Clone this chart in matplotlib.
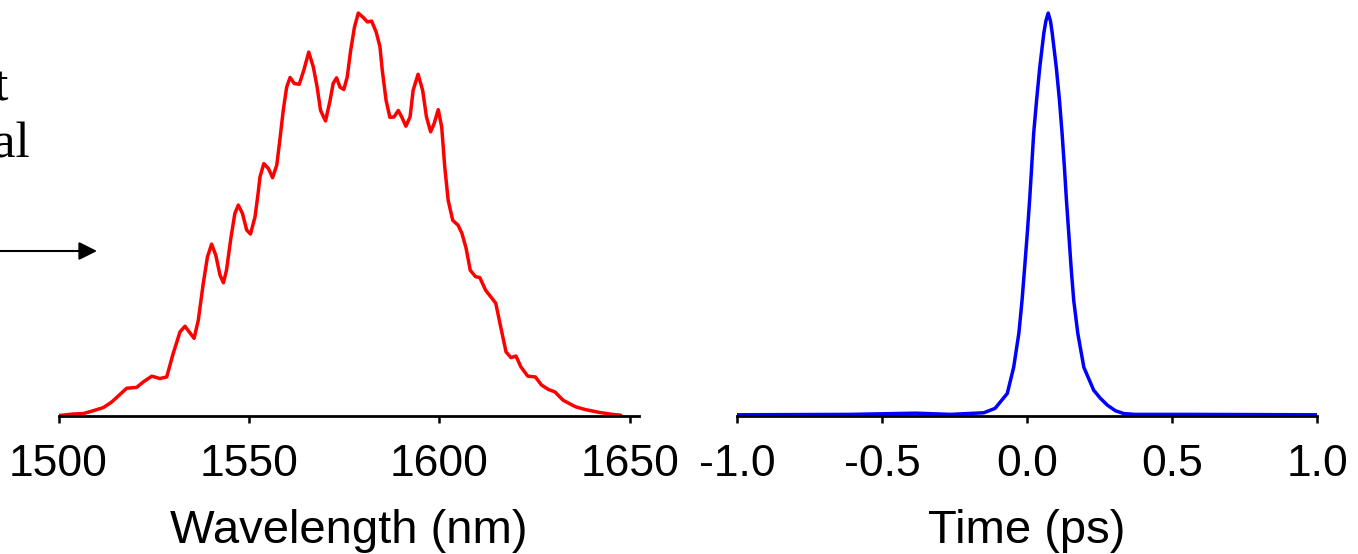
import matplotlib
matplotlib.use("Agg")
import matplotlib.pyplot as plt

plt.rcParams['font.family'] = ['Liberation Sans', 'DejaVu Sans']

# ---- Spectrum (left panel) ----
wavelength_nm = [1500.0, 1503.9, 1506.5, 1509.1, 1511.8, 1514.0, 1517.9, 1520.5, 1522.3, 1524.5,
                 1526.6, 1528.4, 1530.1, 1531.9, 1533.2, 1534.3, 1535.6, 1536.7, 1538.0, 1539.1,
                 1540.2, 1541.3, 1542.4, 1543.3, 1544.1, 1545.3, 1546.3, 1547.2, 1548.3, 1549.4,
                 1550.4, 1551.6, 1552.4, 1552.9, 1553.9, 1555.1, 1556.2, 1557.3, 1558.1, 1559.0,
                 1559.9, 1560.8, 1561.9, 1563.2, 1564.4, 1565.7, 1566.9, 1567.9, 1568.8, 1570.1,
                 1571.3, 1572.1, 1573.0, 1573.9, 1574.9, 1575.8, 1576.7, 1577.7, 1578.7, 1580.0,
                 1581.1, 1582.2, 1583.4, 1584.4, 1585.0, 1586.0, 1587.0, 1588.1, 1589.2, 1590.1,
                 1591.2, 1592.3, 1593.1, 1594.4, 1595.6, 1596.6, 1597.7, 1598.6, 1599.7, 1600.6,
                 1601.4, 1602.3, 1603.5, 1604.9, 1605.9, 1607.0, 1608.1, 1609.5, 1610.6, 1612.1,
                 1613.5, 1614.8, 1616.1, 1617.5, 1618.8, 1620.1, 1621.4, 1623.2, 1625.2, 1626.8,
                 1628.6, 1630.3, 1632.5, 1635.7, 1638.3, 1641.9, 1645.4, 1647.6]
spectrum = [0.000, 0.004, 0.005, 0.012, 0.020, 0.034, 0.068, 0.070, 0.084, 0.098,
            0.092, 0.096, 0.154, 0.208, 0.222, 0.208, 0.192, 0.237, 0.328, 0.394,
            0.426, 0.398, 0.349, 0.330, 0.361, 0.444, 0.502, 0.523, 0.502, 0.461,
            0.451, 0.494, 0.552, 0.593, 0.626, 0.614, 0.591, 0.622, 0.684, 0.758,
            0.816, 0.840, 0.825, 0.823, 0.858, 0.903, 0.866, 0.816, 0.758, 0.732,
            0.783, 0.825, 0.839, 0.816, 0.810, 0.841, 0.907, 0.965, 1.000, 0.989,
            0.978, 0.980, 0.953, 0.916, 0.858, 0.783, 0.741, 0.742, 0.758, 0.742,
            0.719, 0.742, 0.808, 0.848, 0.808, 0.742, 0.705, 0.725, 0.760, 0.717,
            0.618, 0.535, 0.485, 0.473, 0.453, 0.416, 0.361, 0.345, 0.343, 0.312,
            0.295, 0.279, 0.220, 0.158, 0.144, 0.148, 0.121, 0.098, 0.096, 0.076,
            0.065, 0.059, 0.038, 0.022, 0.015, 0.008, 0.003, 0.001]
wl_ticks = [1500, 1550, 1600, 1650]
wl_ticklabels = ["1500", "1550", "1600", "1650"]

# ---- Pulse (right panel) ----
time_ps = [-1.0, -0.61, -0.384, -0.264, -0.149, -0.11, -0.068, -0.046, -0.028, -0.017,
           -0.008, 0.001, 0.009, 0.016, 0.023, 0.033, 0.044, 0.058, 0.065, 0.073,
           0.081, 0.087, 0.101, 0.112, 0.121, 0.129, 0.136, 0.144, 0.152, 0.161,
           0.175, 0.196, 0.230, 0.253, 0.277, 0.305, 0.334, 0.371, 0.569, 1.0]
pulse = [0.002, 0.003, 0.006, 0.003, 0.007, 0.018, 0.055, 0.120, 0.205, 0.287,
         0.369, 0.453, 0.535, 0.617, 0.701, 0.783, 0.865, 0.950, 0.980, 1.000,
         0.980, 0.950, 0.865, 0.783, 0.701, 0.617, 0.535, 0.453, 0.369, 0.287,
         0.205, 0.120, 0.063, 0.043, 0.026, 0.012, 0.005, 0.003, 0.003, 0.002]
t_ticks = [-1.0, -0.5, 0.0, 0.5, 1.0]
t_ticklabels = ["-1.0", "-0.5", "0.0", "0.5", "1.0"]

W, H = 1358, 554
fig = plt.figure(figsize=(W / 100, H / 100), dpi=100)

ybot = (H - 416) / H
ytop = (H - 5) / H
ax1 = fig.add_axes([58.5 / W, ybot, (639 - 58.5) / W, ytop - ybot])
ax2 = fig.add_axes([737 / W, ybot, (1317 - 737) / W, ytop - ybot])

ax1.plot(wavelength_nm, spectrum, color='#ff0000', lw=2.5,
         solid_joinstyle='round', solid_capstyle='round')
ax2.plot(time_ps, pulse, color='#0000ff', lw=2.5,
         solid_joinstyle='round', solid_capstyle='round')

ax1.set_xlim(1500, 1652.4)
ax2.set_xlim(-1.0, 1.0)
for ax in (ax1, ax2):
    ax.set_ylim(-0.001, 1.02)
    for s in ('top', 'left', 'right'):
        ax.spines[s].set_visible(False)
    ax.spines['bottom'].set_linewidth(2.0)
    ax.set_yticks([])
    ax.tick_params(axis='x', direction='out', length=5, width=1.8, pad=15.5,
                   labelsize=32, colors='black')
    ax.patch.set_alpha(0)

ax1.set_xticks(wl_ticks)
ax1.set_xticklabels(wl_ticklabels)
ax2.set_xticks(t_ticks)
ax2.set_xticklabels(t_ticklabels)
ax1.set_xlabel("Wavelength (nm)", fontsize=34, labelpad=17)
ax2.set_xlabel("Time (ps)", fontsize=34, labelpad=17)

# cut-off annotation at the left edge
serif = ['Liberation Serif', 'DejaVu Serif']
fig.text(9 / W, (H - 100) / H, "Input", family=serif, fontsize=37,
         ha='right', va='baseline')
fig.text(31 / W, (H - 157) / H, "signal", family=serif, fontsize=37,
         ha='right', va='baseline')
fig.add_artist(matplotlib.patches.FancyArrowPatch(
    (-5 / W, (H - 251) / H), (97 / W, (H - 251) / H),
    transform=fig.transFigure, arrowstyle='-|>,head_length=1.1,head_width=0.55',
    mutation_scale=10, lw=1.5, color='black', shrinkA=0, shrinkB=0))

fig.savefig("out.png", dpi=100)
